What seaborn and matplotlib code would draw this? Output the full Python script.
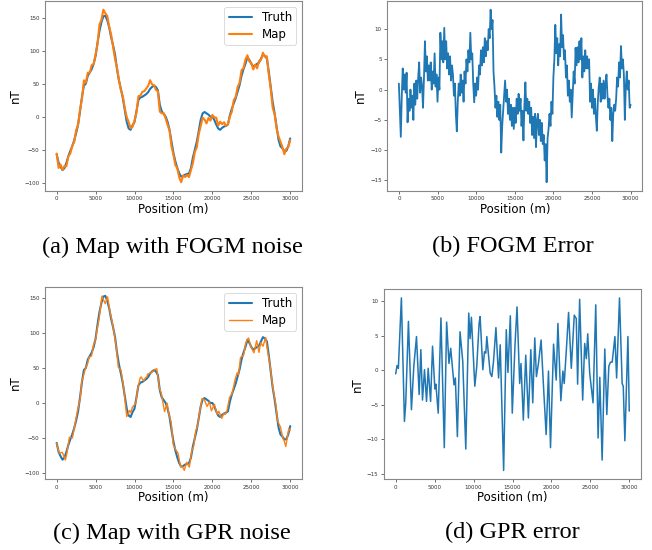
import numpy as np
import pandas as pd
import matplotlib
matplotlib.use("Agg")
import matplotlib.pyplot as plt
import seaborn as sns

# ---------------- data ----------------
position_m = np.arange(0, 30001, 250)          # sampling of truth / FOGM map
error_position_m = np.arange(0, 30001, 125)    # sampling of FOGM error

truth_nT = [
    -57, -70, -76, -81, -78, -70, -60, -52, -45, -36, -25, -12, 8, 30, 47, 50,
    62, 67, 72, 80, 92, 112, 130, 143, 152, 153, 146, 135, 120, 108, 94, 72,
    55, 42, 28, 10, -8, -18, -20, -13, -8, 8, 25, 29, 30, 32, 34, 37,
    42, 45, 47, 45, 40, 18, 8, 4, 0, -8, -20, -38, -55, -68, -78, -86,
    -91, -90, -88, -87, -86, -78, -62, -50, -38, -22, -5, 5, 7, 5, 3, 0,
    0, -5, -12, -18, -20, -17, -15, -14, -12, 2, 12, 20, 28, 38, 48, 62,
    72, 80, 90, 86, 80, 76, 78, 80, 82, 88, 94, 92, 88, 68, 45, 22,
    5, -15, -35, -45, -48, -52, -52, -45, -33,
]

fogm_map_nT = [
    -56, -77.8, -72.5, -80.5, -75, -75, -60, -56, -44, -38.5, -20.5, -12.5, 10.5, 27, 55, 51.5,
    66.5, 66.5, 78, 79.5, 94.5, 110, 139.5, 147, 162, 156.5, 152.5, 136.5, 124, 105.5, 87, 74,
    55.5, 40, 31, 13, -0.5, -8.5, -17.5, -15.5, -6, 6, 31, 31.5, 37.5, 38.5, 42.5, 46.5,
    55.2, 49, 47.5, 40.5, 38.5, 7.6, 5, 5.5, -3, -12.5, -21, -45, -58, -73.5, -78, -92.5,
    -99.4, -89, -91.5, -88.5, -91.5, -81, -70.5, -53.5, -46.5, -26.5, -14.5, -1.5, -4.5, -10.3, -2, -6,
    2.5, -1, -1.5, -13.5, -7.6, -11.5, -8.5, -14, -11.5, 0, 7.4, 25, 30, 45, 51.5, 70.5,
    73.5, 86.5, 93, 83.5, 81.5, 71.5, 78.5, 73.2, 84.5, 86, 97, 90.5, 91.5, 64, 42, 13.5,
    3.5, -18, -30, -37.8, -46, -57, -48.5, -46, -35.5,
]

fogm_error_nT = [
    1, -3.5, -7.8, -1, 3.5, 0, 2.5, -0.5, 2.8, -5.4, -1.5, -3.5,
    0, -3, -1, -5, 1, -2.5, 1.5, -1.5, 2, 4.5, -0.5, 2,
    0.5, -3, 2, 8, 3, 5.5, 1.5, 4, 1.5, 4.5, 0, 3,
    1, 6, 0.5, 2.5, -2, 2, 0, 9.4, 5, 8, 4.5, 10.2,
    5, 8, 3.5, 6, 2.5, 5.5, 1.5, 4, 2.5, -1, 1, -4,
    -6.9, -2, 1, -1, 2.5, -0.5, 1.5, -2, 3, 1, 5, 3,
    6.5, 4.5, 9.4, 5, 6, 1, -2.1, 1, -1, 2, 0, 4,
    2.5, 6.5, 4, 7, 4.5, 8.5, 5.5, 8, 6.5, 10, 8.5, 13.2,
    10, 11.5, 3, 0.5, -3, -1, -4.5, -2, -5, -2.5, -10.4, -6,
    -3.5, -1, 1.5, -2, 0, -4, -1.5, -5, -2.5, -6, -3, -6.5,
    -3, -5.5, -1.5, -4, -0.7, -3.5, -1.5, -6, -3.5, -8.4, -2.5, 1.2,
    -3.5, -1.5, -4, -2, -5.5, -3, -7.5, -4.5, -8, -4, -9.5, -5,
    -4, -7.5, -5, -8.5, -5.5, -9, -7.5, -11.7, -9, -15.3, -8, -6.5,
    -4, -6, -2, -4, 2, 5, 10.7, 6, 8.5, 4, 7.5, 5.5,
    12.4, 7, 9, 5, 6.5, 2, 4, -1, 1.5, -2, 0, -4.6,
    -1, 3, 1, 6.9, 4, 7, 4.5, 8, 5, 8.5, 2, 5.5,
    3, 6.5, 3.5, 5.5, 3.5, 5, -2, 1, -3, 0, -4, -1.5,
    -4.5, -6.8, -2, 0.5, 2, -2, 1, -1.5, 1.5, -1.5, 1, 2.5,
    -1, -3, -1.5, -5, -3, -8.5, -4, -2.5, -3.5, -1.5, 2, 0.5,
    4.5, 2, 7.2, 3.5, 5, 2.5, -5, 0.5, 3, 0, 1.5, -3,
    -2.5,
]

gpr_position_m = [
    0, 170, 340, 730, 1120, 1290, 1635, 2020, 2320, 2670, 3010, 3230, 3440, 3700, 3960, 4170,
    4480, 4730, 5030, 5160, 5460, 5810, 6240, 6540, 6840, 7060, 7490, 7660, 7920, 8260, 8610, 9000,
    9380, 9550, 9720, 10160, 10410, 10710, 10840, 11190, 11400, 11570, 11700, 12130, 12350, 12560, 12870, 13210,
    13420, 13860, 14200, 14410, 14720, 14970, 15320, 15580, 15920, 16090, 16390, 16700, 17040, 17350, 17600, 17860,
    18070, 18330, 18670, 18970, 19320, 19620, 19880, 20270, 20610, 20830, 21210, 21470, 21640, 21900, 22200, 22550,
    22930, 23190, 23360, 23620, 24010, 24270, 24480, 24660, 24910, 25340, 25690, 25990, 26210, 26510, 26850, 27110,
    27370, 27580, 27800, 28150, 28370, 28740, 29080, 29220, 29430, 29820, 29990,
]

gpr_error_nT = [
    -0.5, 0.7, 0.3, 10.5, -7.4, -4.7, 7.1, -5.7, 0.5, 4.9, -3.5, 3, -4.3, 0.1, -4.5, 0.3,
    -4.5, 3.5, -2.7, -2, -6.2, 7.6, -11.2, 7, 1, 3.2, -2.1, -1.1, -9.6, 5.6, 1.3, -11.4,
    8.3, 4.6, 7.7, -2.3, 0.6, 6.8, 7.8, 0.1, 2.7, 2.5, 4.9, -0.4, -0.9, 1.3, 6.2, -1.1,
    3.7, -14.5, 5.9, -0.3, 7.9, -6.2, 3.7, 9.2, -1.9, 1, -7.2, 2.2, -6.9, 3, -4.7, 4.7,
    -0.9, 1, 4.4, -2.1, -9.3, -0.1, -11.2, 3.8, -1.4, 6.8, -4.4, -0.1, -1.9, 2.7, 8.4, 0.3,
    8.0, 7.5, -2, 10.3, -4.3, 3.9, 1.7, 5.3, -0.4, -4.7, 9.5, -9.8, -1, -13, 3.1, -6.4,
    0.6, 1.2, 1.2, 4.9, -1.1, 10.5, -1.9, -2.3, -10.2, 4.9, -5.9,
]

gpr_map_nT = [
    -57.5, -65.3, -71.7, -70.5, -81.4, -73.2, -48.9, -50, -32.5, -11, 5.5, 31, 38.7, 49.6, 55.5, 65.8,
    67, 83, 91.8, 103, 120.8, 152.6, 141.8, 151.5, 131, 120.2, 92.4, 78.9, 50.9, 47.1, 21.3, -19.4,
    -10.7, -14, -6.3, -0.3, 19.6, 35.3, 37.2, 31.6, 35.9, 37.3, 41.3, 43.2, 44.9, 47.8, 48.8, 20.4,
    14.7, -12.3, -0.5, -16, -28.1, -59.2, -67.3, -71.3, -91.3, -89.6, -96.2, -84.8, -91.6, -68.6, -61.7, -40,
    -34.4, -15.5, 6.2, 4.7, -4.9, 1.5, -11.2, -1.8, -16, -11.8, -21.9, -15.3, -16.5, -10.1, 7.6, 13.9,
    33.8, 43.1, 40.4, 65, 68, 84.7, 90.9, 92.7, 81.8, 71.6, 89, 72.2, 86, 81, 93.5, 72.8,
    57.6, 38.8, 19.8, -2.1, -25.7, -34.1, -51.2, -53.8, -62.2, -36.7, -39.4,
]

captions = ["(a) Map with FOGM noise", "(b) FOGM Error",
            "(c) Map with GPR noise", "(d) GPR error"]

BLUE = "#1f77b4"
ORANGE = "#ff7f0e"

# ---------------- figure ----------------
sns.set_style("white")
plt.rcParams["font.family"] = ["DejaVu Sans"]
plt.rcParams["text.color"] = "black"
plt.rcParams["axes.labelcolor"] = "black"

fig = plt.figure(figsize=(6.52, 5.5), dpi=100)
ax_a = fig.add_axes([0.069, 0.653, 0.394, 0.345])
ax_b = fig.add_axes([0.594, 0.653, 0.391, 0.345])
ax_c = fig.add_axes([0.069, 0.129, 0.394, 0.349])
ax_d = fig.add_axes([0.589, 0.129, 0.394, 0.345])

df_a = pd.DataFrame({"pos": position_m, "truth": truth_nT, "map": fogm_map_nT})
df_e = pd.DataFrame({"pos": error_position_m, "err": fogm_error_nT})
df_g = pd.DataFrame({"pos": gpr_position_m, "map": gpr_map_nT, "err": gpr_error_nT})

sns.lineplot(data=df_a, x="pos", y="truth", ax=ax_a, color=BLUE, lw=1.5,
             label="Truth", estimator=None, sort=False)
sns.lineplot(data=df_a, x="pos", y="map", ax=ax_a, color=ORANGE, lw=1.5,
             label="Map", estimator=None, sort=False)

sns.lineplot(data=df_e, x="pos", y="err", ax=ax_b, color=BLUE, lw=1.3,
             estimator=None, sort=False)

sns.lineplot(data=df_a, x="pos", y="truth", ax=ax_c, color=BLUE, lw=1.5,
             label="Truth", estimator=None, sort=False)
sns.lineplot(data=df_g, x="pos", y="map", ax=ax_c, color=ORANGE, lw=1.0,
             label="Map", estimator=None, sort=False)

sns.lineplot(data=df_g, x="pos", y="err", ax=ax_d, color=BLUE, lw=1.1,
             estimator=None, sort=False)

for ax in (ax_a, ax_b, ax_c, ax_d):
    ax.set_xlabel("Position (m)", fontsize=8.5, labelpad=1)
    ax.set_ylabel("nT", fontsize=8.5, labelpad=2)
    ax.set_xticks([0, 5000, 10000, 15000, 20000, 25000, 30000])
    ax.tick_params(axis="both", labelsize=4, length=2, width=0.6,
                   color="#555555", pad=2, labelcolor="#333333",
                   bottom=True, left=True)
    for s in ax.spines.values():
        s.set_color("#888888")
        s.set_linewidth(0.8)

for ax in (ax_a, ax_c):
    leg = ax.legend(loc="upper right", fontsize=8.5, frameon=True,
                    borderpad=0.35, handlelength=2.0, labelspacing=0.3,
                    handletextpad=0.8)
    leg.get_frame().set_edgecolor("#cccccc")
    leg.get_frame().set_linewidth(0.6)

ax_b.set_yticks([-15, -10, -5, 0, 5, 10])
ax_d.set_yticks([-15, -10, -5, 0, 5, 10])

cap_pos = [(0.264, 0.551), (0.786, 0.551), (0.264, 0.031), (0.786, 0.031)]
for (cx, cy), txt in zip(cap_pos, captions):
    fig.text(cx, cy, txt, ha="center", va="center", fontsize=17.5,
             color="black", family=["Liberation Serif", "DejaVu Serif"])

fig.savefig("out.png", dpi=100)
